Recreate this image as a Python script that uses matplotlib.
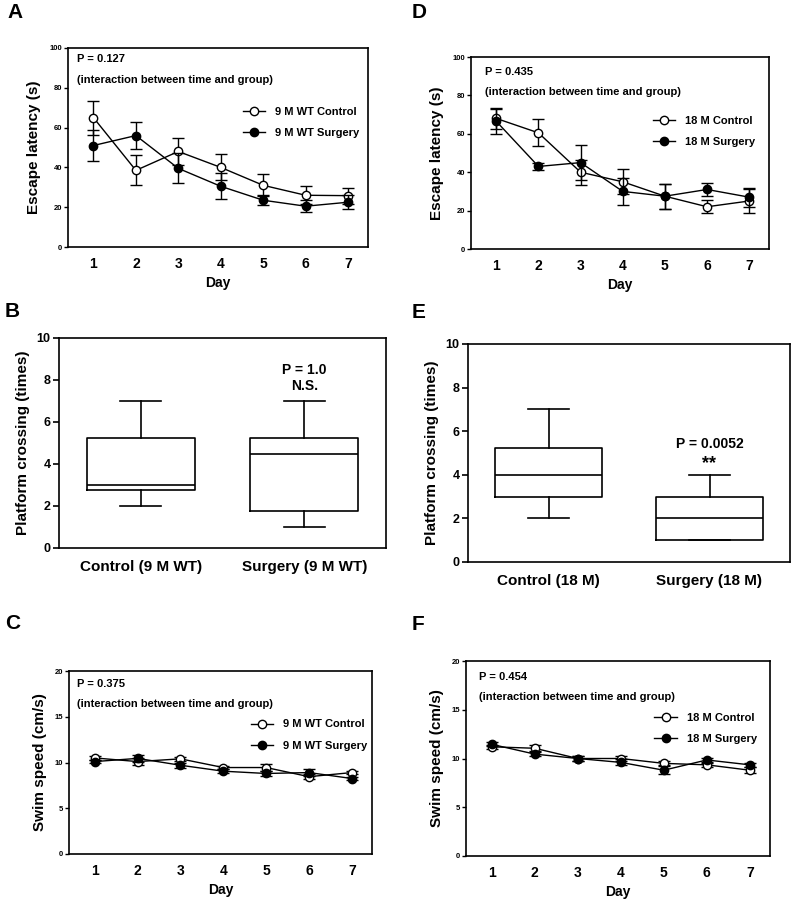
import matplotlib
matplotlib.use("Agg")
import matplotlib.pyplot as plt
from matplotlib.lines import Line2D

plt.rcParams['font.family'] = ['Liberation Sans', 'DejaVu Sans']
plt.rcParams['font.weight'] = 'bold'

days = [1, 2, 3, 4, 5, 6, 7]

# A: escape latency, 9 M WT
a_ctrl = [65, 38.5, 48, 40, 31, 26, 25.8]
a_ctrl_err = [8.5, 7.5, 7, 6.5, 5.5, 4.5, 4]
a_surg = [51, 56, 39.5, 30.5, 23.5, 20.5, 22.5]
a_surg_err = [8, 7, 7.5, 6.5, 2.5, 3, 3.5]

# D: escape latency, 18 M
d_ctrl = [68, 60.5, 40, 35, 27.5, 22, 25]
d_ctrl_err = [5.5, 7, 6.5, 6.5, 6.5, 3.5, 6.5]
d_surg = [66.5, 43, 45, 30, 27.5, 31, 27]
d_surg_err = [6.5, 2, 9, 7, 6.5, 3.5, 5]

# C: swim speed, 9 M WT
c_ctrl = [10.5, 10.1, 10.4, 9.45, 9.45, 8.45, 8.9]
c_ctrl_err = [0.2, 0.35, 0.2, 0.2, 0.35, 0.25, 0.2]
c_surg = [10.1, 10.45, 9.7, 9.05, 8.8, 8.9, 8.25]
c_surg_err = [0.2, 0.35, 0.3, 0.2, 0.25, 0.35, 0.2]

# F: swim speed, 18 M
f_ctrl = [11.2, 11.05, 10.0, 10.0, 9.5, 9.35, 8.8]
f_ctrl_err = [0.2, 0.3, 0.25, 0.3, 0.2, 0.2, 0.3]
f_surg = [11.45, 10.45, 10.0, 9.6, 8.8, 9.85, 9.35]
f_surg_err = [0.2, 0.2, 0.25, 0.3, 0.4, 0.2, 0.2]

# B / E: platform crossing box stats (whislo, q1, med, q3, whishi)
b_labels = ['Control (9 M WT)', 'Surgery (9 M WT)']
b_stats = [[2, 2.75, 3, 5.25, 7], [1, 1.75, 4.5, 5.25, 7]]
e_labels = ['Control (18 M)', 'Surgery (18 M)']
e_stats = [[2, 3, 4, 5.25, 7], [1, 1, 2, 3, 4]]

W, H = 795, 901
fig = plt.figure(figsize=(W / 100, H / 100), dpi=100)


def px_axes(left, top, right, bottom):
    return fig.add_axes([left / W, 1 - bottom / H, (right - left) / W, (bottom - top) / H])


def line_panel(ax, ctrl, ctrl_err, surg, surg_err, names, ymax, ystep, ylabel, ptext, ptxt_xy, leg_xy):
    ax.errorbar(days, ctrl, yerr=ctrl_err, color='black', lw=1, marker='o', ms=6,
                mfc='white', mec='black', mew=1, capsize=4, elinewidth=1, capthick=1,
                zorder=3)
    ax.errorbar(days, surg, yerr=surg_err, color='black', lw=1, marker='o', ms=6,
                mfc='black', mec='black', capsize=4, elinewidth=1, capthick=1,
                zorder=4)
    ax.set_xlim(0.4, 7.47)
    ax.set_ylim(0, ymax)
    ax.set_yticks(range(0, ymax + 1, ystep))
    ax.set_xticks(days)
    ax.tick_params(axis='y', labelsize=5.5, length=3, width=1, pad=1)
    ax.tick_params(axis='x', labelsize=10, length=0, pad=7)
    for lab in ax.get_yticklabels() + ax.get_xticklabels():
        lab.set_fontweight('bold')
    for s in ax.spines.values():
        s.set_linewidth(1.2)
    ax.set_xlabel('Day', fontsize=10, fontweight='bold', labelpad=4)
    ax.set_ylabel(ylabel, fontsize=11, fontweight='bold', labelpad=6)
    ax.text(ptxt_xy[0], ptxt_xy[1], ptext, transform=ax.transAxes, fontsize=8,
            fontweight='bold', va='center')
    ax.text(ptxt_xy[0], ptxt_xy[2], '(interaction between time and group)',
            transform=ax.transAxes, fontsize=8, fontweight='bold', va='center')
    handles = [Line2D([], [], color='black', lw=1, marker='o', ms=6, mfc='white', mec='black'),
               Line2D([], [], color='black', lw=1, marker='o', ms=6, mfc='black', mec='black')]
    ax.legend(handles, names, loc='upper left', bbox_to_anchor=leg_xy, frameon=False,
              borderpad=0, borderaxespad=0, handlelength=2.0, handletextpad=0.9,
              labelspacing=1.0, prop={'size': 8, 'weight': 'bold'})


def box_panel(ax, stats, labels, ylabel):
    bx = []
    for s, lab in zip(stats, labels):
        bx.append(dict(whislo=s[0], q1=s[1], med=s[2], q3=s[3], whishi=s[4], label=lab, fliers=[]))
    ax.bxp(bx, positions=[1, 2], widths=0.66, showfliers=False,
           boxprops=dict(lw=1.2, color='black'), whiskerprops=dict(lw=1.2, color='black'),
           capprops=dict(lw=1.2, color='black'), medianprops=dict(lw=1.2, color='black'),
           capwidths=0.25)
    ax.set_xlim(0.5, 2.5)
    ax.set_ylim(0, 10)
    ax.set_yticks([0, 2, 4, 6, 8, 10])
    ax.tick_params(axis='y', labelsize=9, length=4, width=1.2, pad=2)
    ax.tick_params(axis='x', labelsize=11, length=0, pad=9)
    for lab in ax.get_yticklabels() + ax.get_xticklabels():
        lab.set_fontweight('bold')
    for s in ax.spines.values():
        s.set_linewidth(1.2)
    ax.set_ylabel(ylabel, fontsize=11, fontweight='bold', labelpad=5)


# A
axA = px_axes(68, 48, 368, 247)
line_panel(axA, a_ctrl, a_ctrl_err, a_surg, a_surg_err, ['9 M WT Control', '9 M WT Surgery'],
           100, 20, 'Escape latency (s)', 'P = 0.127', (0.03, 0.945, 0.84), (0.583, 0.705))
# D
axD = px_axes(471, 57, 769, 249)
line_panel(axD, d_ctrl, d_ctrl_err, d_surg, d_surg_err, ['18 M Control', '18 M Surgery'],
           100, 20, 'Escape latency (s)', 'P = 0.435', (0.047, 0.92, 0.82), (0.61, 0.695))
# C
axC = px_axes(69, 671, 372, 854)
line_panel(axC, c_ctrl, c_ctrl_err, c_surg, c_surg_err, ['9 M WT Control', '9 M WT Surgery'],
           20, 5, 'Swim speed (cm/s)', 'P = 0.375', (0.026, 0.93, 0.82), (0.6, 0.735))
# F
axF = px_axes(466, 661, 770, 856)
line_panel(axF, f_ctrl, f_ctrl_err, f_surg, f_surg_err, ['18 M Control', '18 M Surgery'],
           20, 5, 'Swim speed (cm/s)', 'P = 0.454', (0.043, 0.92, 0.815), (0.62, 0.735))

# B
axB = px_axes(59, 338, 386, 548)
box_panel(axB, b_stats, b_labels, 'Platform crossing (times)')
axB.text(2, 8.5, 'P = 1.0', ha='center', va='center', fontsize=10, fontweight='bold')
axB.text(2, 7.7, 'N.S.', ha='center', va='center', fontsize=10, fontweight='bold')

# E
axE = px_axes(468, 344, 790, 562)
box_panel(axE, e_stats, e_labels, 'Platform crossing (times)')
axE.text(2, 5.4, 'P = 0.0052', ha='center', va='center', fontsize=10, fontweight='bold')
axE.text(2, 4.5, '**', ha='center', va='center', fontsize=13, fontweight='bold')

# panel letters
for lab, x, y in [('A', 7, 3), ('D', 412, 3), ('B', 5, 302), ('E', 412, 303),
                  ('C', 5, 614), ('F', 412, 615)]:
    fig.text(x / W, 1 - y / H, lab, fontsize=15, fontweight='bold', va='top', ha='left')

fig.savefig('out.png', dpi=100)
